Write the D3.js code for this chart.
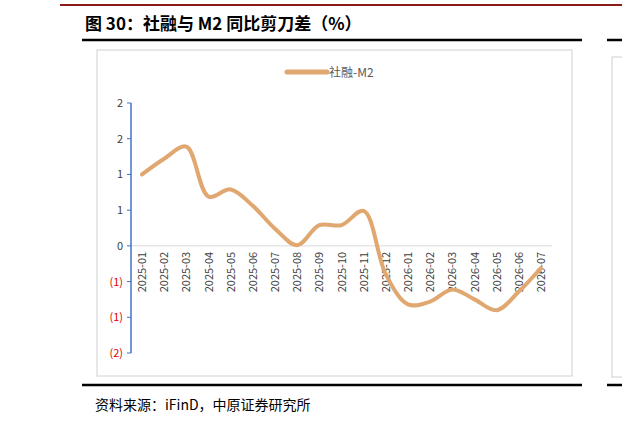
<!DOCTYPE html><html><head><meta charset="utf-8">
<script src="https://cdn.jsdelivr.net/npm/d3@7"></script>
<style>body{margin:0;background:#fff}</style></head><body>
<svg id="c" width="622" height="427"></svg>
<script>
const categories=["2025-01","2025-02","2025-03","2025-04","2025-05","2025-06","2025-07","2025-08","2025-09","2025-10","2025-11","2025-12","2026-01","2026-02","2026-03","2026-04","2026-05","2026-06","2026-07"];
const values=[1.0,1.22,1.39,0.69,0.79,0.56,0.24,0.01,0.29,0.29,0.49,-0.4,-0.82,-0.78,-0.61,-0.75,-0.9,-0.64,-0.31];
const yTicks=[2,1.5,1,0.5,0,-0.5,-1,-1.5];
const yLabels=["2","2","1","1","0","(1)","(1)","(2)"];
const svg=d3.select("#c");
const f="'Noto Sans CJK SC','Noto Sans',sans-serif";
svg.append("line").attr("x1",60).attr("x2",622).attr("y1",5).attr("y2",5).attr("stroke","#8b1a1a").attr("stroke-width",2);
svg.append("text").attr("x",85).attr("y",30).attr("font-family",f).attr("font-size",17).attr("font-weight","bold").text("图 30：社融与 M2 同比剪刀差（%）");
svg.append("line").attr("x1",82).attr("x2",582).attr("y1",40).attr("y2",40).attr("stroke","#000").attr("stroke-width",2.5);
svg.append("line").attr("x1",607).attr("x2",622).attr("y1",40).attr("y2",40).attr("stroke","#000").attr("stroke-width",2.5);
svg.append("rect").attr("x",97).attr("y",50).attr("width",475).attr("height",326).attr("fill","none").attr("stroke","#d0d0d0");
svg.append("rect").attr("x",612).attr("y",57).attr("width",20).attr("height",320).attr("fill","none").attr("stroke","#d0d0d0");
svg.append("line").attr("x1",82).attr("x2",582).attr("y1",385).attr("y2",385).attr("stroke","#000").attr("stroke-width",2.5);
svg.append("line").attr("x1",607).attr("x2",622).attr("y1",385).attr("y2",385).attr("stroke","#000").attr("stroke-width",2.5);
svg.append("text").attr("x",95).attr("y",410).attr("font-family",f).attr("font-size",14).text("资料来源：iFinD，中原证券研究所");
// legend
svg.append("line").attr("x1",287).attr("x2",327).attr("y1",72).attr("y2",72).attr("stroke","#e0a870").attr("stroke-width",5).attr("stroke-linecap","round");
svg.append("text").attr("x",329).attr("y",77).attr("font-family",f).attr("font-size",12).attr("fill","#595959").text("社融-M2");
const x=d3.scalePoint().domain(categories).range([142,541]);
const y=d3.scaleLinear().domain([-1.5,2]).range([353,103]);
// zero line
svg.append("line").attr("x1",131).attr("x2",552).attr("y1",y(0)).attr("y2",y(0)).attr("stroke","#d9d9d9");
// y axis
svg.append("line").attr("x1",131).attr("x2",131).attr("y1",y(2)).attr("y2",y(-1.5)).attr("stroke","#4472c4").attr("stroke-width",1.5);
yTicks.forEach((t,i)=>{
 svg.append("line").attr("x1",127).attr("x2",131).attr("y1",y(t)).attr("y2",y(t)).attr("stroke","#4472c4");
 svg.append("text").attr("x",123).attr("y",y(t)+4).attr("text-anchor","end").attr("font-family",f).attr("font-size",11)
  .attr("fill",t<0?"#e00000":"#404040").text(yLabels[i]);
});
// x labels
categories.forEach(c=>{
 svg.append("text").attr("transform",`translate(${x(c)+4},${y(0)+6}) rotate(-90)`).attr("text-anchor","end")
  .attr("font-family",f).attr("font-size",11).attr("fill","#404040").text(c);
});
const line=d3.line().x((d,i)=>x(categories[i])).y(d=>y(d)).curve(d3.curveCatmullRom.alpha(0.5));
svg.append("path").datum(values).attr("d",line).attr("fill","none").attr("stroke","#e0a870").attr("stroke-width",4).attr("stroke-linecap","round");
</script></body></html>
